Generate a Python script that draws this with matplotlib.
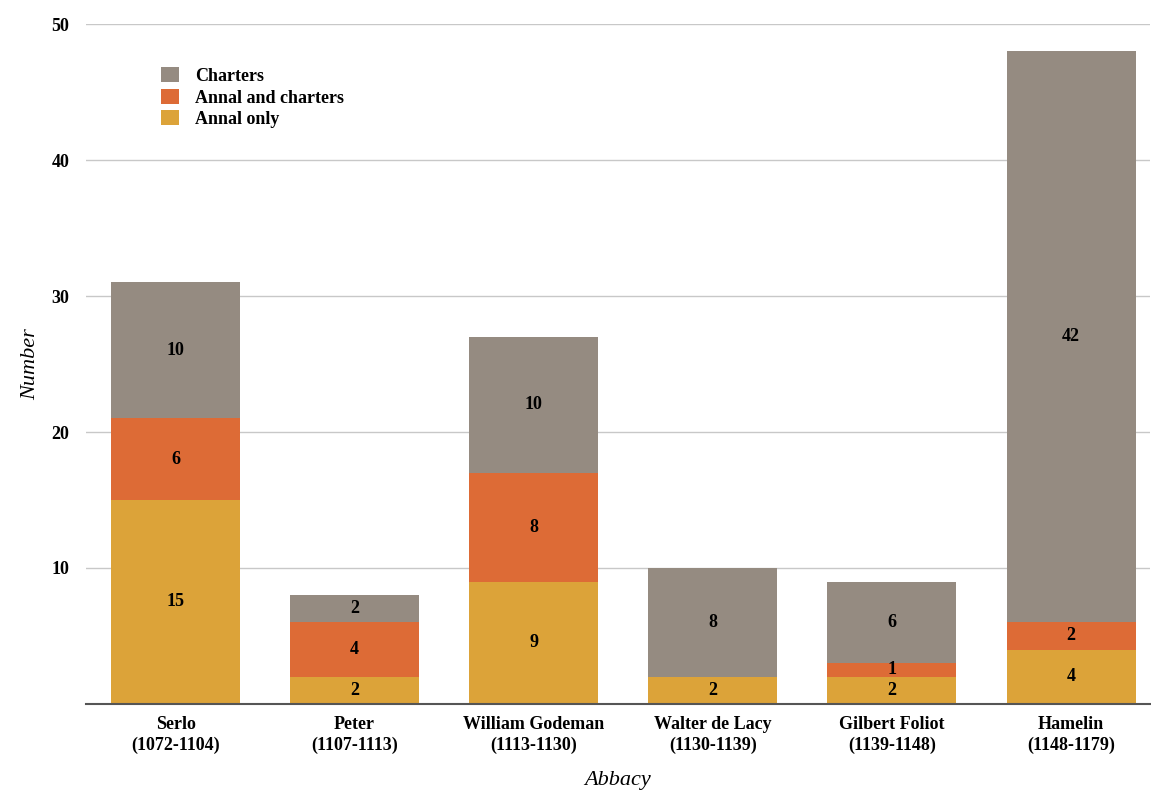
import matplotlib.pyplot as plt

abbots = ['Serlo\n(1072-1104)', 'Peter\n(1107-1113)', 'William Godeman\n(1113-1130)',
          'Walter de Lacy\n(1130-1139)', 'Gilbert Foliot\n(1139-1148)', 'Hamelin\n(1148-1179)']
annal_only = [15, 2, 9, 2, 2, 4]
annal_and_charters = [6, 4, 8, 0, 1, 2]
charters = [10, 2, 10, 8, 6, 42]

plt.rcParams['font.family'] = ['Liberation Serif', 'DejaVu Serif']

fig = plt.figure(figsize=(11.51, 7.96), dpi=100)
ax = fig.add_axes([0.0747, 0.1156, 0.9243, 0.8542])

x = list(range(len(abbots)))
w = 0.72
c_annal = '#dca339'
c_both = '#dd6b36'
c_char = '#958b81'

b1 = ax.bar(x, annal_only, w, color=c_annal, label='Annal only', zorder=3)
b2 = ax.bar(x, annal_and_charters, w, bottom=annal_only, color=c_both,
            label='Annal and charters', zorder=3)
base2 = [a + b for a, b in zip(annal_only, annal_and_charters)]
b3 = ax.bar(x, charters, w, bottom=base2, color=c_char, label='Charters', zorder=3)

for bars, vals, bottoms in [(b1, annal_only, [0] * 6), (b2, annal_and_charters, annal_only),
                            (b3, charters, base2)]:
    for i, (v, b) in enumerate(zip(vals, bottoms)):
        if v == 0:
            continue
        ax.text(i, b + v / 2, str(v), ha='center', va='center', fontsize=13,
                fontweight='bold', zorder=4)

ax.set_xlim(-0.5, 5.44)
ax.set_ylim(0, 50)
ax.set_yticks([10, 20, 30, 40, 50])
ax.set_xticks(x)
ax.set_xticklabels(abbots, fontsize=13, fontweight='bold', linespacing=1.25)
for lab in ax.get_yticklabels():
    lab.set_fontsize(13)
    lab.set_fontweight('bold')
ax.tick_params(length=0)
ax.tick_params(axis='y', pad=12)
ax.tick_params(axis='x', pad=9)
ax.grid(axis='y', color='#c8c8c8', linewidth=1, zorder=0)
for s in ['top', 'right', 'left']:
    ax.spines[s].set_visible(False)
ax.spines['bottom'].set_color('#555555')
ax.spines['bottom'].set_linewidth(1.5)
ax.spines['bottom'].set_zorder(5)

ax.set_ylabel('Number', fontsize=16, fontstyle='italic', labelpad=8)
ax.set_xlabel('Abbacy', fontsize=16, fontstyle='italic', labelpad=12)

handles, labels = ax.get_legend_handles_labels()
leg = ax.legend(handles[::-1], labels[::-1], loc='upper left', bbox_to_anchor=(0.055, 0.96),
                frameon=False, handlelength=1.0, handleheight=0.9, handletextpad=0.9,
                labelspacing=0.2, prop={'size': 13, 'weight': 'bold'})

fig.savefig('out.png', dpi=100)
